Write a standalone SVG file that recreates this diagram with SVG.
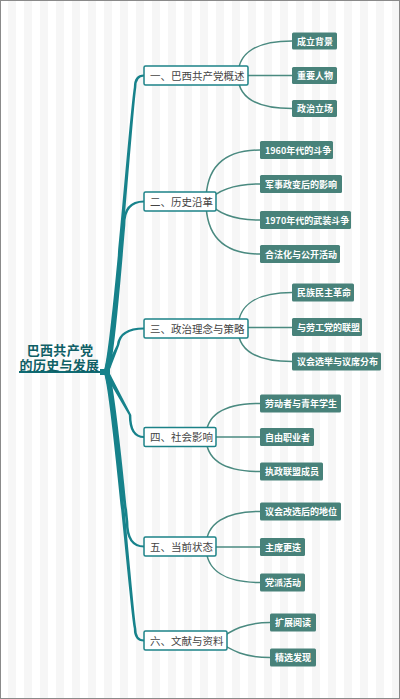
<svg xmlns="http://www.w3.org/2000/svg" width="400" height="699" viewBox="0 0 400 699">
<defs>
<pattern id="stripes" x="0" y="0" width="16" height="699" patternUnits="userSpaceOnUse">
<rect x="0" y="0" width="16" height="699" fill="#ffffff"/>
<rect x="8" y="0" width="8" height="699" fill="#f6f6f6"/>
</pattern>
<style>
.l1 { fill:#ffffff; stroke:#1c8288; stroke-width:1.5; }
.l1t { font-family:"Noto Sans CJK SC","Noto Sans",sans-serif; font-size:10.5px; fill:#444444; }
.l2 { fill:#48827a; }
.l2t { font-family:"Noto Sans CJK SC","Noto Sans",sans-serif; font-size:9px; font-weight:bold; fill:#ffffff; }
.main { fill:#17828b; }
.sub { fill:none; stroke:#4a8a80; stroke-width:1.5; }
.root { font-family:"Liberation Sans","Noto Sans CJK SC",sans-serif; font-size:13px; font-weight:bold; fill:#0f5f66; letter-spacing:0.3px; }
</style>
</defs>
<rect x="0" y="0" width="400" height="699" fill="url(#stripes)"/>
<rect x="0.5" y="0.5" width="399" height="698" fill="none" stroke="#8a8a8a" stroke-width="1"/>

<g id="connectors">
<!-- main branches (tapered) -->
<path class="main" d="M103 373 C110 368 129 120 133.8 87.5 Q133.8 74.5 144 74.5 L144 76.5 Q136.3 76.5 136.3 87.5 C132 120 114 368 108.5 373 Z"/>
<path class="main" d="M103 373 C109 368 120 250 122.8 225 Q122.8 200.5 144 200.5 L144 202.5 Q125.3 202.5 125.3 225 C123 250 114 368 108.5 373 Z"/>
<path class="main" d="M103 373 L116.8 345 Q118.8 327.5 144 327.5 L144 329.5 Q121.3 329.5 119.3 345 L108.5 373 Z"/>
<path class="main" d="M103 371 L128.8 415 Q128.8 438 144 438 L144 436 Q131.3 436 131.3 415 L108.5 371 Z"/>
<path class="main" d="M103 371 C109 376 123 500 125.8 521.5 Q125.8 547.5 144 547.5 L144 545.5 Q128.3 545.5 128.3 521.5 C126 500 114 376 108.5 371 Z"/>
<path class="main" d="M103 371 C110 376 129 600 133.8 628.5 Q133.8 641.5 144 641.5 L144 639.5 Q136.3 639.5 136.3 628.5 C132 600 114 376 108.5 371 Z"/>
<path d="M19 372 L104 372" stroke="#0f6b73" stroke-width="1.8" fill="none"/>
<rect x="100" y="369" width="10" height="6" fill="#17828b"/>
<!-- group 1 -->
<path class="sub" d="M238 75.5 C238 52 258 41 292 41"/>
<path class="sub" d="M240 75.5 L292 75.5"/>
<path class="sub" d="M238 75.5 C238 99 258 108.5 292 108.5"/>
<!-- group 2 -->
<path class="sub" d="M206 201.5 C206 165 226 150 260 150"/>
<path class="sub" d="M208 201.5 C216 192 230 184 260 184"/>
<path class="sub" d="M208 201.5 C216 212 230 220 260 220"/>
<path class="sub" d="M206 201.5 C206 238 226 254 260 254"/>
<!-- group 3 -->
<path class="sub" d="M238 328.5 C238 304 258 292.5 292 292.5"/>
<path class="sub" d="M240 327.5 L292 327.5"/>
<path class="sub" d="M238 328.5 C238 352 258 361.5 292 361.5"/>
<!-- group 4 -->
<path class="sub" d="M206 437 C206 414 226 403.5 260 403.5"/>
<path class="sub" d="M208 437 L260 437"/>
<path class="sub" d="M206 437 C206 461 226 471.5 260 471.5"/>
<!-- group 5 -->
<path class="sub" d="M206 546.5 C206 523 226 511.5 260 511.5"/>
<path class="sub" d="M208 547 L260 547"/>
<path class="sub" d="M206 546.5 C206 571 226 582.5 260 582.5"/>
<!-- group 6 -->
<path class="sub" d="M217 640.5 C232 630 245 622.5 270 622.5"/>
<path class="sub" d="M217 640.5 C232 651 245 657.5 270 657.5"/>
</g>

<g id="root">
<text class="root" x="60" y="354.5" text-anchor="middle">巴西共产党</text>
<text class="root" x="59.5" y="369.5" text-anchor="middle">的历史与发展</text>
</g>

<g id="n1"><rect class="l1" x="144" y="66" width="104" height="19" rx="1.5"/><text class="l1t" x="150" y="79.5">一、巴西共产党概述</text></g>
<g id="n2"><rect class="l1" x="144" y="192" width="72" height="19" rx="1.5"/><text class="l1t" x="150" y="205.5">二、历史沿革</text></g>
<g id="n3"><rect class="l1" x="144" y="319" width="104" height="19" rx="1.5"/><text class="l1t" x="150" y="332.5">三、政治理念与策略</text></g>
<g id="n4"><rect class="l1" x="144" y="427.5" width="72" height="19" rx="1.5"/><text class="l1t" x="150" y="441">四、社会影响</text></g>
<g id="n5"><rect class="l1" x="144" y="537" width="72" height="19" rx="1.5"/><text class="l1t" x="150" y="550.5">五、当前状态</text></g>
<g id="n6"><rect class="l1" x="144" y="631" width="83" height="19" rx="1.5"/><text class="l1t" x="150" y="644.5">六、文献与资料</text></g>

<g id="n1a"><rect class="l2" x="292" y="32.5" width="45" height="17" rx="1.5"/><text class="l2t" x="297" y="44.5">成立背景</text></g>
<g id="n1b"><rect class="l2" x="292" y="67" width="45" height="17" rx="1.5"/><text class="l2t" x="297" y="79">重要人物</text></g>
<g id="n1c"><rect class="l2" x="292" y="100" width="45" height="17" rx="1.5"/><text class="l2t" x="297" y="112">政治立场</text></g>

<g id="n2a"><rect class="l2" x="260" y="141" width="73" height="18" rx="1.5"/><text class="l2t" x="265" y="153.5">1960年代的斗争</text></g>
<g id="n2b"><rect class="l2" x="260" y="175" width="82" height="18" rx="1.5"/><text class="l2t" x="265" y="187.5">军事政变后的影响</text></g>
<g id="n2c"><rect class="l2" x="260" y="211" width="91" height="18" rx="1.5"/><text class="l2t" x="265" y="223.5">1970年代的武装斗争</text></g>
<g id="n2d"><rect class="l2" x="260" y="245" width="80" height="18" rx="1.5"/><text class="l2t" x="265" y="257.5">合法化与公开活动</text></g>

<g id="n3a"><rect class="l2" x="292" y="283.5" width="62" height="18" rx="1.5"/><text class="l2t" x="297" y="296">民族民主革命</text></g>
<g id="n3b"><rect class="l2" x="292" y="318" width="70" height="18" rx="1.5"/><text class="l2t" x="297" y="330.5">与劳工党的联盟</text></g>
<g id="n3c"><rect class="l2" x="292" y="352.5" width="89" height="18" rx="1.5"/><text class="l2t" x="297" y="365">议会选举与议席分布</text></g>

<g id="n4a"><rect class="l2" x="260" y="394.5" width="81" height="18" rx="1.5"/><text class="l2t" x="265" y="407">劳动者与青年学生</text></g>
<g id="n4b"><rect class="l2" x="260" y="428" width="54" height="18" rx="1.5"/><text class="l2t" x="265" y="440.5">自由职业者</text></g>
<g id="n4c"><rect class="l2" x="260" y="462.5" width="63" height="18" rx="1.5"/><text class="l2t" x="265" y="475">执政联盟成员</text></g>

<g id="n5a"><rect class="l2" x="260" y="502.5" width="81" height="18" rx="1.5"/><text class="l2t" x="265" y="515">议会改选后的地位</text></g>
<g id="n5b"><rect class="l2" x="260" y="538" width="45" height="18" rx="1.5"/><text class="l2t" x="265" y="550.5">主席更迭</text></g>
<g id="n5c"><rect class="l2" x="260" y="573.5" width="45" height="18" rx="1.5"/><text class="l2t" x="265" y="586">党派活动</text></g>

<g id="n6a"><rect class="l2" x="270" y="613.5" width="46" height="18" rx="1.5"/><text class="l2t" x="275" y="626">扩展阅读</text></g>
<g id="n6b"><rect class="l2" x="270" y="648.5" width="46" height="18" rx="1.5"/><text class="l2t" x="275" y="661">精选发现</text></g>
</svg>
